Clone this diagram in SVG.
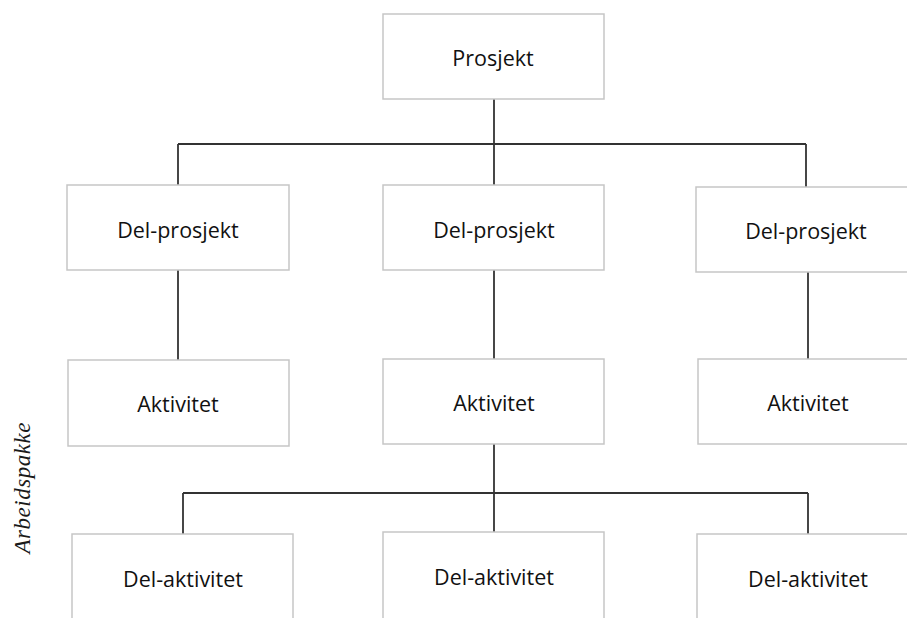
<svg xmlns="http://www.w3.org/2000/svg" width="907" height="618" viewBox="0 0 907 618">
  <style>
    .box { fill: #ffffff; stroke: #c6c6c6; stroke-width: 1.5; }
    .lbl { font-family: "Open Sans", "Liberation Sans", sans-serif; font-size: 21.5px; font-weight: 500; fill: #111111; text-anchor: middle; dominant-baseline: central; }
    .link { fill: none; stroke: #333333; stroke-width: 1.8; }
    .side { font-family: "Liberation Serif", "DejaVu Serif", serif; font-style: italic; font-size: 23px; fill: #1a1a1a; text-anchor: middle; dominant-baseline: central; }
  </style>
  <rect width="907" height="618" fill="#ffffff"/>

  <g id="connectors">
    <path class="link" d="M494 99 V144 M178 144 H806 M178 144 V185 M494 144 V185 M806 144 V187"/>
    <path class="link" d="M178 270 V360 M494 270 V359 M808 272 V359"/>
    <path class="link" d="M494 444 V532 M183 493 H808 M183 493 V534 M808 493 V534"/>
  </g>

  <g id="prosjekt">
    <rect class="box" x="383" y="14" width="221" height="85"/>
    <text class="lbl" x="493" y="57">Prosjekt</text>
  </g>

  <g id="delprosjekt-1">
    <rect class="box" x="67" y="185" width="222" height="85"/>
    <text class="lbl" x="178" y="229">Del-prosjekt</text>
  </g>
  <g id="delprosjekt-2">
    <rect class="box" x="383" y="185" width="221" height="85"/>
    <text class="lbl" x="494" y="229">Del-prosjekt</text>
  </g>
  <g id="delprosjekt-3">
    <rect class="box" x="696" y="187" width="221" height="85"/>
    <text class="lbl" x="806" y="230">Del-prosjekt</text>
  </g>

  <g id="aktivitet-1">
    <rect class="box" x="68" y="360" width="221" height="86"/>
    <text class="lbl" x="178" y="403">Aktivitet</text>
  </g>
  <g id="aktivitet-2">
    <rect class="box" x="383" y="359" width="221" height="85"/>
    <text class="lbl" x="494" y="402">Aktivitet</text>
  </g>
  <g id="aktivitet-3">
    <rect class="box" x="698" y="359" width="221" height="85"/>
    <text class="lbl" x="808" y="402">Aktivitet</text>
  </g>

  <g id="delaktivitet-1">
    <rect class="box" x="72" y="534" width="221" height="100"/>
    <text class="lbl" x="183" y="578">Del-aktivitet</text>
  </g>
  <g id="delaktivitet-2">
    <rect class="box" x="383" y="532" width="221" height="100"/>
    <text class="lbl" x="494" y="576">Del-aktivitet</text>
  </g>
  <g id="delaktivitet-3">
    <rect class="box" x="697" y="534" width="221" height="100"/>
    <text class="lbl" x="808" y="578">Del-aktivitet</text>
  </g>

  <text class="side" transform="translate(22 488) rotate(-90)" textLength="131" lengthAdjust="spacing">Arbeidspakke</text>
</svg>
